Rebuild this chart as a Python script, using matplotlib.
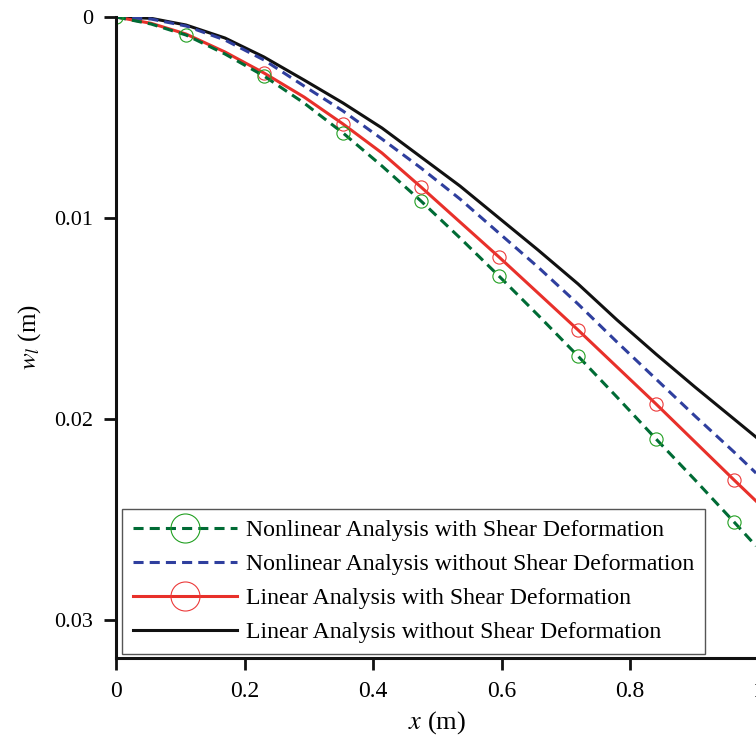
import matplotlib
matplotlib.use("Agg")
import matplotlib.pyplot as plt

# -----------------------------
# Data (x in m, w_l in m)
# -----------------------------
x_pts = [0.0, 0.0545, 0.1089, 0.1696, 0.2303, 0.2926, 0.3533, 0.4139, 0.4746,
         0.5353, 0.5960, 0.6567, 0.7190, 0.7796, 0.8403, 0.9010, 0.9617, 0.9960]

# values in mm, converted to m below
w_nl_shear_mm = [0.0, 0.348, 0.896, 1.841, 2.935, 4.279, 5.771, 7.413, 9.154,
                 10.99, 12.89, 14.83, 16.87, 18.91, 20.99, 23.03, 25.12, 26.32]
w_nl_noshear_mm = [0.0, 0.100, 0.448, 1.144, 2.139, 3.433, 4.677, 6.070, 7.512,
                   9.055, 10.75, 12.44, 14.28, 16.17, 18.01, 19.85, 21.64, 22.69]
w_lin_shear_mm = [0.0, 0.313, 0.846, 1.741, 2.786, 3.980, 5.323, 6.766, 8.458,
                  10.20, 11.94, 13.73, 15.57, 17.41, 19.25, 21.14, 23.03, 24.08]
w_lin_noshear_mm = [0.0, 0.065, 0.398, 1.045, 1.990, 3.134, 4.279, 5.522, 6.965,
                    8.408, 10.00, 11.59, 13.28, 15.07, 16.77, 18.41, 20.00, 20.90]

# marker indices into x_pts
marks_green = [0, 2, 4, 6, 8, 10, 12, 14, 16]
marks_red = [4, 6, 8, 10, 12, 14, 16]

labels = [
    "Nonlinear Analysis with Shear Deformation",
    "Nonlinear Analysis without Shear Deformation",
    "Linear Analysis with Shear Deformation",
    "Linear Analysis without Shear Deformation",
]

xticks = [0, 0.2, 0.4, 0.6, 0.8, 1.0]
xtick_labels = ["0", "0.2", "0.4", "0.6", "0.8", "1"]
yticks = [0, 0.01, 0.02, 0.03]
ytick_labels = ["0", "0.01", "0.02", "0.03"]


def mm_to_m(vals):
    return [v / 1000.0 for v in vals]


# -----------------------------
# Style
# -----------------------------
plt.rcParams["font.family"] = ["Liberation Serif", "DejaVu Serif"]
plt.rcParams["mathtext.fontset"] = "stix"

GREEN = "#006b35"
GREEN_MK = "#22a022"
BLUE = "#2f3f9e"
RED = "#e8302a"
RED_MK = "#ec3a3a"
BLACK = "#111111"
LW = 2.2
DASH = (0, (3.3, 2.0))
MS = 9.5

fig = plt.figure(figsize=(7.56, 7.41), dpi=100)
ax = fig.add_axes([116 / 756, 83 / 741, 642.6 / 756, 641 / 741])

h_black, = ax.plot(x_pts, mm_to_m(w_lin_noshear_mm), color=BLACK, lw=LW, label=labels[3])
h_red, = ax.plot(x_pts, mm_to_m(w_lin_shear_mm), color=RED, lw=LW, marker="o",
                 markevery=marks_red, markersize=MS, markerfacecolor="none",
                 markeredgecolor=RED_MK, markeredgewidth=0.8, label=labels[2])
h_blue, = ax.plot(x_pts, mm_to_m(w_nl_noshear_mm), color=BLUE, lw=LW, linestyle=DASH,
                  label=labels[1])
h_green, = ax.plot(x_pts, mm_to_m(w_nl_shear_mm), color=GREEN, lw=LW, linestyle=DASH,
                   marker="o", markevery=marks_green, markersize=MS, markerfacecolor="none",
                   markeredgecolor=GREEN_MK, markeredgewidth=0.8, label=labels[0])

ax.set_xlim(0, 1.0)
ax.set_ylim(0.03189, 0)

ax.set_xticks(xticks)
ax.set_xticklabels(xtick_labels)
ax.set_yticks(yticks)
ax.set_yticklabels(ytick_labels)

for side in ["top", "right"]:
    ax.spines[side].set_visible(False)
for side in ["left", "bottom"]:
    ax.spines[side].set_linewidth(2.2)
    ax.spines[side].set_color(BLACK)

ax.tick_params(direction="out", length=8.5, width=2.0, color=BLACK, labelsize=16)
ax.tick_params(axis="y", pad=8)
ax.tick_params(axis="x", pad=8, labelsize=17)

ax.set_xlabel("$x$ (m)", fontsize=19, labelpad=5)
ax.set_ylabel("$w_l$ (m)", fontsize=18, labelpad=8)

leg = ax.legend(handles=[h_green, h_blue, h_red, h_black], loc="lower left",
                bbox_to_anchor=(122 / 756, 87 / 741), bbox_transform=fig.transFigure,
                fontsize=17.1, frameon=True, fancybox=False, framealpha=1,
                edgecolor="#555555", borderpad=0.45, labelspacing=0.52,
                handlelength=4.4, handletextpad=0.38, markerscale=2.2,
                borderaxespad=0)
leg.get_frame().set_linewidth(1.0)

fig.savefig("out.png", dpi=100)
